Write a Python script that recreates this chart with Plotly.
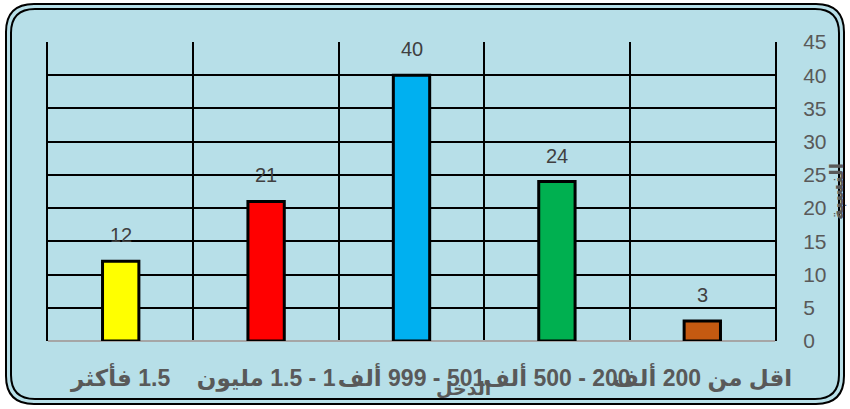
import plotly.graph_objects as go

# ---- data ----
categories = ["اقل من 200 ألف", "200 - 500 ألف", "501 - 999 ألف", "1 - 1.5 مليون", "1.5 فأكثر"]
values = [3, 24, 40, 21, 12]
bar_colors = ["#C55A11", "#00B050", "#00B0F0", "#FF0000", "#FFFF00"]
y_tick_values = [0, 5, 10, 15, 20, 25, 30, 35, 40, 45]
x_title = "الدخل"
y_title = "النسبة"

W, H = 850, 409
ML, MR, MT, MB = 48, 75, 42, 68
PW, PH = W - ML - MR, H - MT - MB
FONT = "Liberation Sans, Arial, DejaVu Sans, sans-serif"


def px(x, y):
    """pixel -> paper coordinates"""
    return (x - ML) / PW, (H - MB - y) / PH


def rounded_path(x0, y0, x1, y1, r):
    def P(x, y):
        a, b = px(x, y)
        return f"{a:.5f},{b:.5f}"
    return (f"M {P(x0 + r, y0)} L {P(x1 - r, y0)} Q {P(x1, y0)} {P(x1, y0 + r)} "
            f"L {P(x1, y1 - r)} Q {P(x1, y1)} {P(x1 - r, y1)} "
            f"L {P(x0 + r, y1)} Q {P(x0, y1)} {P(x0, y1 - r)} "
            f"L {P(x0, y0 + r)} Q {P(x0, y0)} {P(x0 + r, y0)} Z")


fig = go.Figure()
fig.add_trace(go.Bar(
    x=categories, y=values,
    marker=dict(color=bar_colors, line=dict(color="black", width=3)),
    width=0.25,
))

label_font = dict(family=FONT, size=20, color="#404040")
annotations = []
for c, v in zip(categories, values):
    annotations.append(dict(x=c, y=v, xref="x", yref="y", text=str(v), showarrow=False,
                            yanchor="bottom", yshift=13, font=label_font))
tx, ty = px(463, 389)
annotations.append(dict(x=tx, y=ty, xref="paper", yref="paper", text=f"<b>{x_title}</b>",
                        showarrow=False, xanchor="center", yanchor="middle",
                        font=dict(family=FONT, size=19, color="#595959")))

shapes = [
    dict(type="path", xref="paper", yref="paper", path=rounded_path(6, 4, 844, 404, 28),
         fillcolor="#b7dfe8", line=dict(color="black", width=2), layer="below"),
    dict(type="path", xref="paper", yref="paper", path=rounded_path(11, 9, 839, 399, 24),
         fillcolor="rgba(0,0,0,0)", line=dict(color="black", width=2), layer="below"),
]

fig.update_layout(
    width=W, height=H,
    margin=dict(l=ML, r=MR, t=MT, b=MB),
    paper_bgcolor="white",
    plot_bgcolor="white",
    showlegend=False,
    annotations=annotations,
    shapes=shapes,
)

fig.update_xaxes(
    type="category", autorange="reversed",
    tickvals=categories, ticktext=["\u200f" + c for c in categories],
    tickangle=0, tickson="boundaries", ticks="",
    showgrid=True, gridcolor="black", gridwidth=2,
    showline=False, ticklabelstandoff=21,
    tickfont=dict(family=FONT, size=23, color="#595959", weight="bold"),
)
fig.update_yaxes(
    side="right", range=[0, 45], tickvals=y_tick_values,
    showgrid=True, gridcolor="black", gridwidth=2,
    showline=True, linecolor="black", linewidth=2, mirror=True,
    zeroline=True, zerolinecolor="#a6a6a6", zerolinewidth=2,
    ticks="", ticklabelstandoff=22,
    tickfont=dict(family=FONT, size=21, color="#595959"),
    title=dict(text=f"<b>{y_title}</b>", standoff=0,
               font=dict(family=FONT, size=18, color="#595959")),
)

fig.write_html("out.html", config={"displayModeBar": False},
               post_script="document.body.style.margin='0';document.body.style.overflow='hidden';")
